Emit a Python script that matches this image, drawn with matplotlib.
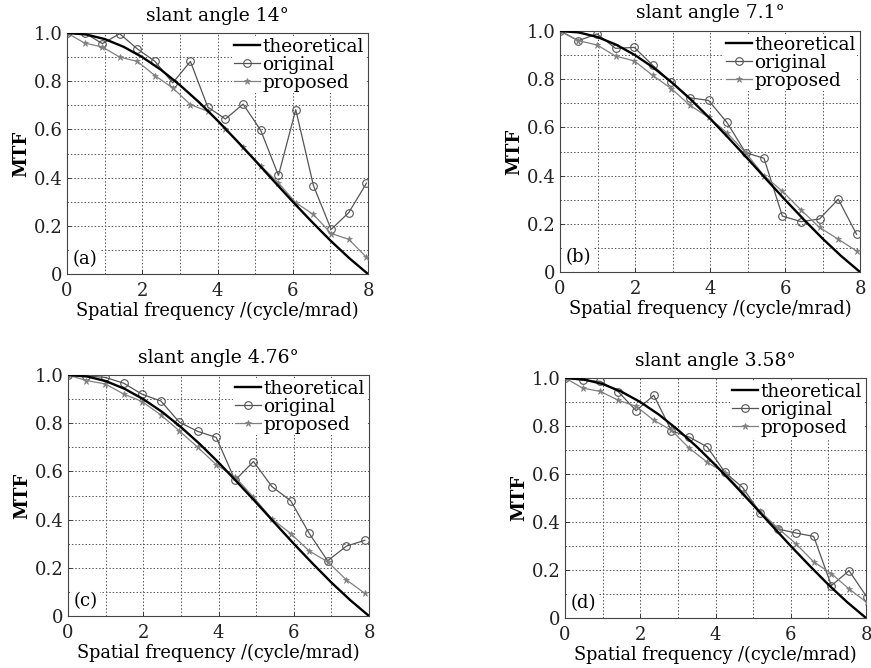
import numpy as np
import matplotlib
matplotlib.use("Agg")
import matplotlib.pyplot as plt

plt.rcParams["font.family"] = "DejaVu Serif"
plt.rcParams["mathtext.fontset"] = "dejavuserif"

# ---------------------------
# data
# ---------------------------
theo_x = [0, 0.5, 1, 1.5, 2, 2.5, 3, 3.5, 4, 4.5, 5, 5.5, 6, 6.5, 7, 7.5, 8]
theo_y = [1.0, 0.994, 0.975, 0.943, 0.900, 0.847, 0.784, 0.714, 0.637,
          0.555, 0.471, 0.385, 0.300, 0.218, 0.139, 0.066, 0.0]

freq_a = [0, 0.47, 0.94, 1.40, 1.87, 2.34, 2.81, 3.28, 3.74, 4.21, 4.68,
          5.15, 5.62, 6.08, 6.55, 7.02, 7.49, 7.96]
orig_a = [1.0, 1.0, 0.956, 0.997, 0.934, 0.882, 0.793, 0.882, 0.693, 0.643,
          0.705, 0.596, 0.409, 0.682, 0.367, 0.185, 0.255, 0.377]
prop_a = [1.0, 0.958, 0.942, 0.90, 0.882, 0.823, 0.772, 0.703, 0.675, 0.602,
          0.527, 0.449, 0.378, 0.296, 0.247, 0.168, 0.144, 0.069]

freq_b = [0, 0.49, 0.99, 1.48, 1.98, 2.47, 2.97, 3.46, 3.96, 4.45, 4.95,
          5.44, 5.93, 6.43, 6.92, 7.42, 7.91]
orig_b = [1.0, 0.96, 0.988, 0.928, 0.932, 0.858, 0.788, 0.723, 0.712, 0.621,
          0.495, 0.472, 0.232, 0.209, 0.22, 0.302, 0.156]
prop_b = [1.0, 0.96, 0.942, 0.896, 0.876, 0.816, 0.761, 0.692, 0.642, 0.578,
          0.495, 0.40, 0.335, 0.257, 0.185, 0.136, 0.087]

freq_c = [0, 0.49, 0.99, 1.48, 1.97, 2.47, 2.96, 3.45, 3.94, 4.44, 4.93,
          5.42, 5.92, 6.41, 6.90, 7.40, 7.89]
orig_c = [1.0, 0.996, 0.99, 0.966, 0.92, 0.892, 0.804, 0.766, 0.741, 0.563,
          0.641, 0.537, 0.478, 0.343, 0.229, 0.29, 0.314]
prop_c = [1.0, 0.977, 0.963, 0.921, 0.89, 0.834, 0.768, 0.70, 0.628, 0.577,
          0.493, 0.403, 0.342, 0.27, 0.225, 0.15, 0.094]

freq_d = [0, 0.47, 0.94, 1.42, 1.89, 2.36, 2.83, 3.30, 3.78, 4.25, 4.72,
          5.19, 5.66, 6.14, 6.61, 7.08, 7.55, 8.02]
orig_d = [1.0, 0.99, 0.986, 0.942, 0.864, 0.928, 0.78, 0.754, 0.713, 0.607,
          0.544, 0.438, 0.371, 0.354, 0.34, 0.135, 0.197, 0.088]
prop_d = [1.0, 0.958, 0.944, 0.907, 0.882, 0.824, 0.782, 0.708, 0.649, 0.604,
          0.524, 0.444, 0.374, 0.309, 0.234, 0.185, 0.121, 0.065]

titles = ["slant angle 14°", "slant angle 7.1°",
          "slant angle 4.76°", "slant angle 3.58°"]
tags = ["(a)", "(b)", "(c)", "(d)"]
panels = [(freq_a, orig_a, prop_a), (freq_b, orig_b, prop_b),
          (freq_c, orig_c, prop_c), (freq_d, orig_d, prop_d)]

# ---------------------------
# figure
# ---------------------------
W, H = 871, 668
fig = plt.figure(figsize=(W / 100, H / 100), dpi=100)

# axes boxes in pixels: left, right, top, bottom
boxes = [(67, 368, 33, 274), (560, 860, 31, 272),
         (68, 369, 375, 616), (565, 866, 378, 618)]

for i, (l, r, t, b) in enumerate(boxes):
    ax = fig.add_axes([l / W, 1 - b / H, (r - l) / W, (b - t) / H])
    fx, orig, prop = panels[i]

    ax.plot(theo_x, theo_y, color="black", lw=1.7, label="theoretical",
            zorder=4)
    ax.plot(fx, orig, color="#555555", lw=0.9, marker="o", ms=5.5,
            mfc="none", mew=0.8, label="original", zorder=3)
    ax.plot(fx, prop, color="#808080", lw=0.9, marker="*", ms=5,
            mew=0.5, label="proposed", zorder=3)

    ax.set_xlim(0, 8)
    ax.set_ylim(0, 1)
    ax.set_xticks([0, 2, 4, 6, 8])
    ax.set_xticklabels(["0", "2", "4", "6", "8"])
    ax.set_yticks([0, 0.2, 0.4, 0.6, 0.8, 1.0])
    ax.set_yticklabels(["0", "0.2", "0.4", "0.6", "0.8", "1.0"])
    ax.set_xticks(np.arange(0, 9, 1), minor=True)
    ax.set_yticks(np.arange(0, 1.01, 0.1), minor=True)
    ax.grid(True, which="both", color="#555555", lw=0.7,
            linestyle=(0, (1.5, 2)))
    ax.tick_params(which="both", direction="in", length=3, width=0.6,
                   labelsize=13, pad=3, colors="#222222")
    ax.tick_params(axis="x", which="major", pad=6)
    ax.tick_params(which="minor", length=0)
    for s in ax.spines.values():
        s.set_color("#444444")
        s.set_linewidth(0.8)

    ax.set_title(titles[i], fontsize=13.5, pad=9)
    ax.set_xlabel("Spatial frequency /(cycle/mrad)", fontsize=12.8,
                  labelpad=1)
    ax.set_ylabel("MTF", fontsize=13, fontweight="bold", labelpad=3)

    leg = ax.legend(loc="upper right", fontsize=13.3, frameon=True,
                    facecolor="white", edgecolor="none", framealpha=1,
                    handlelength=1.4, handletextpad=0.1, labelspacing=0.0,
                    borderpad=0.1, borderaxespad=0.15, fancybox=False)
    leg.set_zorder(6)

    ax.text(0.02, 0.025, tags[i], transform=ax.transAxes, fontsize=13,
            ha="left", va="bottom", zorder=6,
            bbox=dict(facecolor="white", edgecolor="none", pad=1.5))

fig.savefig("out.png", dpi=100)
